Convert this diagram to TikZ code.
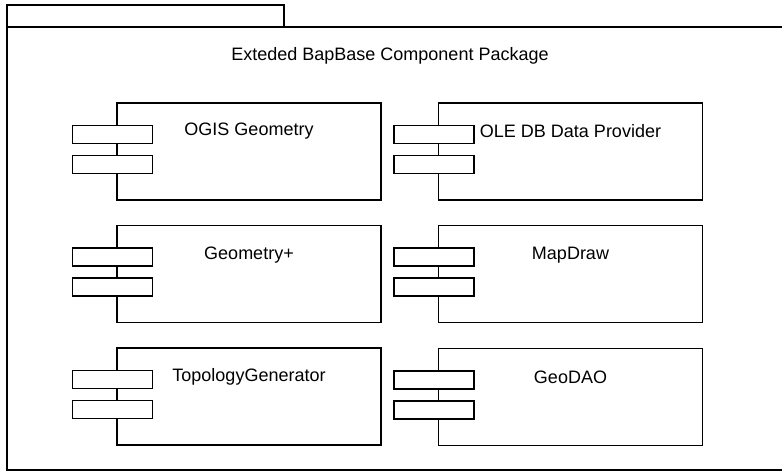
\documentclass[tikz,border=0pt]{standalone}
\usepackage{fontspec}
\setmainfont{Liberation Sans}
\usetikzlibrary{positioning}

\tikzset{
  comp/.style={draw=black, line width=1.3pt, minimum width=264pt, minimum height=97pt, inner sep=0pt},
  port/.style={draw=black, fill=white, line width=1.3pt, minimum width=80pt, minimum height=18pt, inner sep=0pt},
  ctext/.style={font=\fontsize{18}{21}\selectfont, inner sep=0pt},
}

\begin{document}
\begin{tikzpicture}[x=1pt, y=-1pt]
  \useasboundingbox (0,0) rectangle (782,471);
  % package frame
  \draw[line width=1.3pt] (7,27) -- (7,5) -- (284,5) -- (284,27);
  \draw[line width=1.3pt] (782,27) -- (7,27) -- (7,470) -- (782,470);
  \node[ctext] (pkgT) at (390,56) {Exteded BapBase Component Package};
  % left column
  \node[comp] (ogis) at (249,151.5) {};
  \node[port] (ogisA) at ([xshift=-4pt, yshift=17pt]ogis.west) {};
  \node[port] (ogisB) at ([xshift=-4pt, yshift=-13pt]ogis.west) {};
  \node[ctext] (ogisT) at ([yshift=-29pt]ogis.north) {OGIS Geometry};
  \node[comp] (geom) at (249,274) {};
  \node[port] (geomA) at ([xshift=-4pt, yshift=17pt]geom.west) {};
  \node[port] (geomB) at ([xshift=-4pt, yshift=-13pt]geom.west) {};
  \node[ctext] (geomT) at ([yshift=-30pt]geom.north) {Geometry+};
  \node[comp] (topo) at (249,396.5) {};
  \node[port] (topoA) at ([xshift=-4pt, yshift=17pt]topo.west) {};
  \node[port] (topoB) at ([xshift=-4pt, yshift=-13pt]topo.west) {};
  \node[ctext] (topoT) at ([yshift=-29pt]topo.north) {TopologyGenerator};
  % right column
  \node[comp] (oledb) at (570.5,151.5) {};
  \node[port] (oledbA) at ([xshift=-4pt, yshift=17pt]oledb.west) {};
  \node[port] (oledbB) at ([xshift=-4pt, yshift=-13pt]oledb.west) {};
  \node[ctext] (oledbT) at ([yshift=-29pt]oledb.north) {OLE DB Data Provider};
  \node[comp] (mapd) at (570.5,274) {};
  \node[port] (mapdA) at ([xshift=-4pt, yshift=17pt]mapd.west) {};
  \node[port] (mapdB) at ([xshift=-4pt, yshift=-13pt]mapd.west) {};
  \node[ctext] (mapdT) at ([yshift=-30pt]mapd.north) {MapDraw};
  \node[comp] (gdao) at (570.5,397) {};
  \node[port] (gdaoA) at ([xshift=-4pt, yshift=17pt]gdao.west) {};
  \node[port] (gdaoB) at ([xshift=-4pt, yshift=-13pt]gdao.west) {};
  \node[ctext] (gdaoT) at ([yshift=-29pt]gdao.north) {GeoDAO};
\end{tikzpicture}
\end{document}
